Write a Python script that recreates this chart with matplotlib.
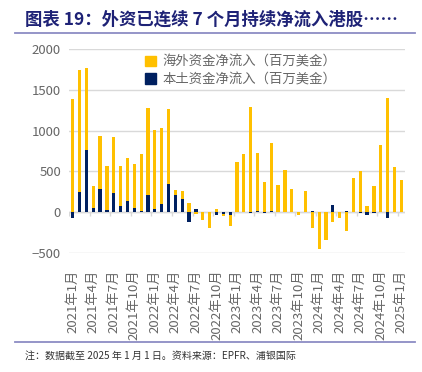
import numpy as np
import matplotlib
matplotlib.use("Agg")
import matplotlib.pyplot as plt
from matplotlib.patches import Patch

plt.rcParams['font.family'] = ['Noto Sans CJK SC', 'DejaVu Sans']

# monthly data, 2021-01 .. 2025-01
months = [f"{y}年{m}月" for y in range(2021, 2026) for m in range(1, 13)][:49]

# 海外资金净流入 (USD mn)
overseas = [1390, 1745, 1765, 320, 935, 565, 920, 565, 670, 590, 715, 1280,
            1010, 1035, 1265, 275, 265, 110, -20, -95, -190, 40, -45, -165,
            610, 710, 1295, 725, 365, 845, 335, 515, 285, -40, 255, -195,
            -455, -345, -115, -75, -235, 425, 500, 80, 315, 820, 1405, 555, 390]
# 本土资金净流入 (USD mn)
local = [-70, 250, 765, 50, 280, 30, 230, 80, 135, 50, 15, 210,
         35, 95, 345, 205, 165, -125, 40, 5, 0, -30, -25, -30,
         0, 0, -15, 10, -15, 15, 0, 0, 0, 0, 0, 10,
         5, 0, 85, 0, 15, 0, -5, -35, -10, 0, -70, 0, 0]

yellow = '#FFC000'
navy = '#002060'
gray = '#666666'

fig = plt.figure(figsize=(4.22, 3.72), dpi=100)
ax = fig.add_axes([69.3 / 422, 1 - 253 / 372, 335.4 / 422, 204 / 372])

x = np.arange(len(months))
ax.bar(x, overseas, width=0.47, color=yellow, zorder=3)
ax.bar(x, local, width=0.47, color=navy, zorder=4)

ax.set_xlim(-0.5, len(months) - 0.5)
ax.set_ylim(-500, 2000)
ax.set_yticks(np.arange(-500, 2001, 500))
ax.yaxis.grid(True, color='#D9D9D9', linewidth=1, zorder=0)
ax.axhline(0, color='#D9D9D9', linewidth=1, zorder=1)
ax.vlines(np.arange(-0.5, len(months), 3), -50, 0, color='#D9D9D9', linewidth=1, zorder=1)
for s in ax.spines.values():
    s.set_visible(False)
ax.tick_params(axis='y', length=0, labelsize=9.5, labelcolor=gray, pad=6)

ax.set_xticks(x[::3])
ax.set_xticklabels(months[::3], rotation=90, fontsize=9.5, color=gray)
ax.tick_params(axis='x', length=0, pad=12)

handles = [Patch(color=yellow), Patch(color=navy)]
ax.legend(handles, ['海外资金净流入（百万美金）', '本土资金净流入（百万美金）'],
          loc='upper left', bbox_to_anchor=(0.19, 1.03), frameon=False,
          fontsize=9.6, labelcolor=gray, handlelength=0.8, handleheight=0.8,
          handletextpad=0.5, labelspacing=0.25)

# title and rules
fig.text(25 / 422, 1 - 20 / 372, '图表 19：外资已连续 7 个月持续净流入港股……',
         fontsize=12.5, fontweight='bold', color='#1E2276', va='center', ha='left')
fig.add_artist(plt.Line2D([15 / 422, 415 / 422], [1 - 33 / 372] * 2, color='#8C8CC4', linewidth=1.3))
fig.add_artist(plt.Line2D([15 / 422, 415 / 422], [1 - 342 / 372] * 2, color='#8C8CC4', linewidth=1.3))
fig.text(25 / 422, 1 - 356 / 372, '注：数据截至 2025 年 1 月 1 日。资料来源：EPFR、浦银国际',
         fontsize=7.2, color='#333333', va='center', ha='left')

fig.savefig('out.png', dpi=100)
